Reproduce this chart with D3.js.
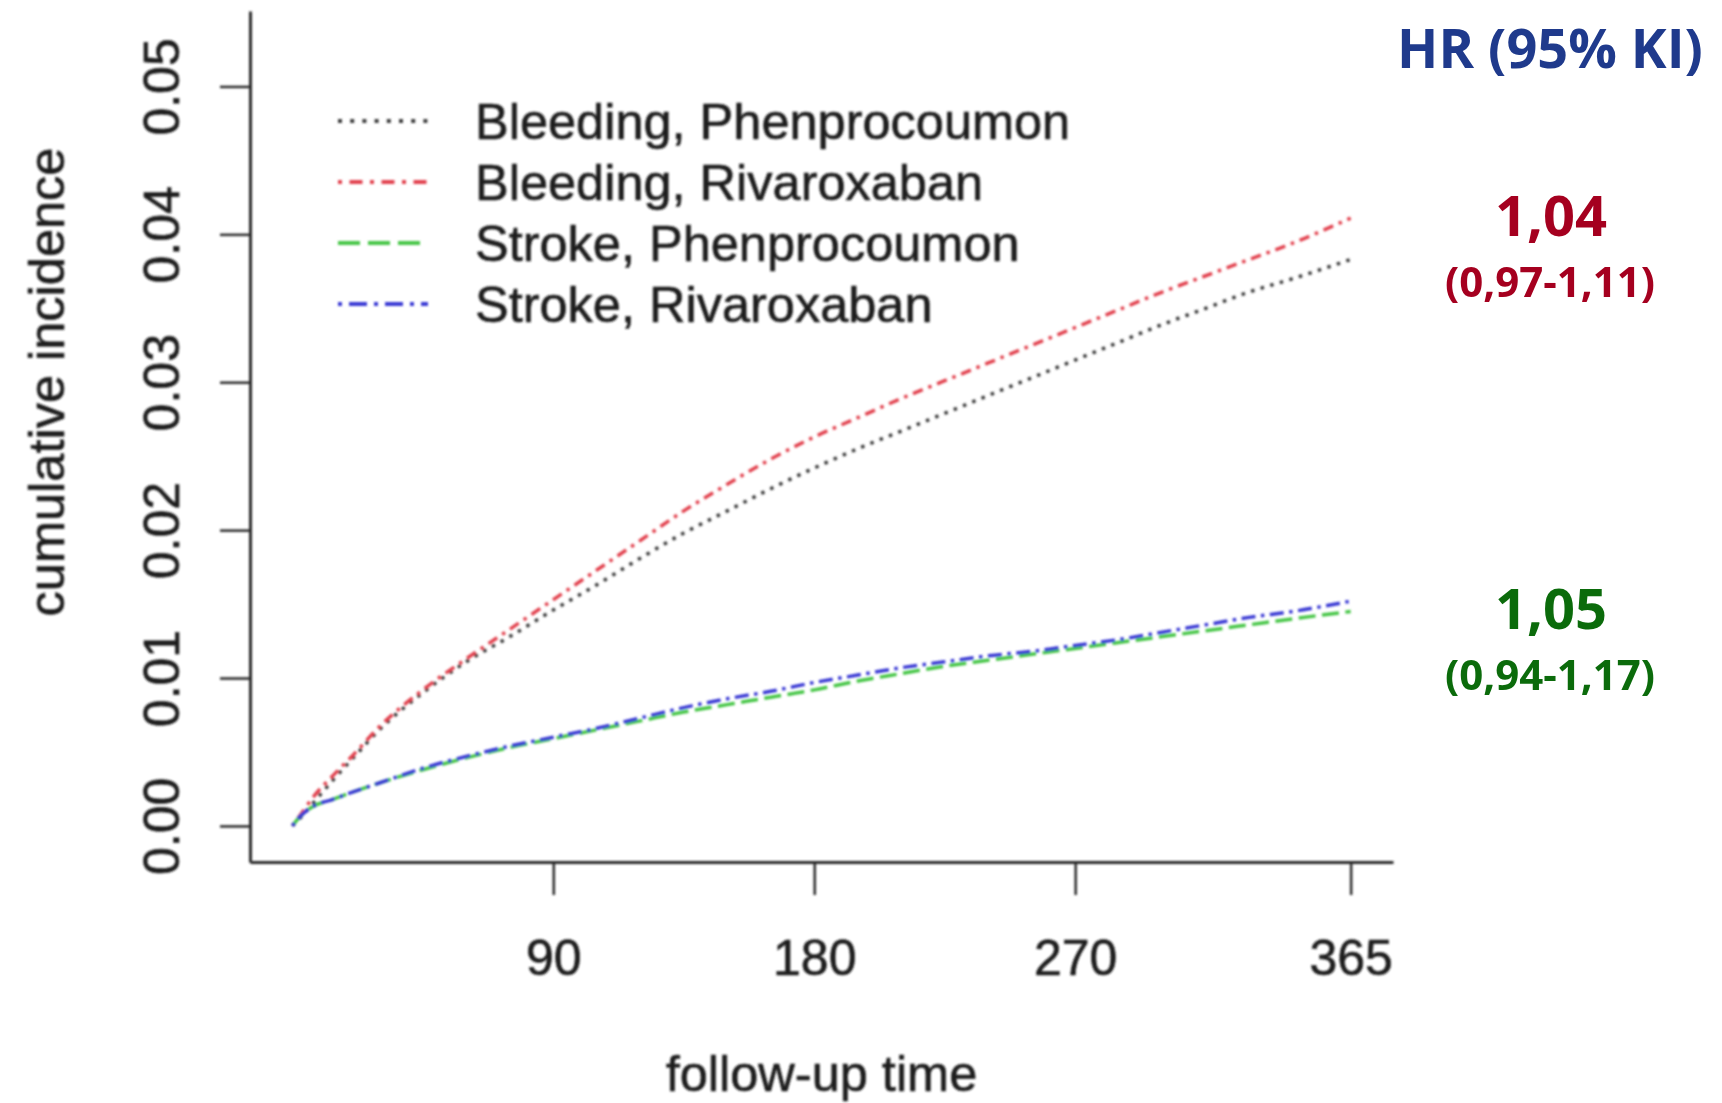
<!DOCTYPE html>
<html>
<head>
<meta charset="utf-8">
<script src="https://cdn.jsdelivr.net/npm/d3@7"></script>
<style>
  html, body { margin: 0; padding: 0; background: #fff; }
  svg { display: block; }
</style>
</head>
<body>
<svg id="chart" width="1722" height="1103"></svg>
<script>
// Follow-up days at which the cumulative incidence curves are sampled
const days = [0, 3, 7, 14, 21, 30, 45, 60, 75, 90, 105, 120, 135, 150, 165, 180,
              195, 210, 225, 240, 255, 270, 285, 300, 315, 330, 345, 365];

// Cumulative incidence per group
const bleedingPhenprocoumon = [0, 0.0006, 0.0015, 0.0031, 0.0046, 0.0065, 0.0090, 0.0111, 0.0128, 0.0146,
  0.0163, 0.0181, 0.0198, 0.0213, 0.0228, 0.0242, 0.0255, 0.0267, 0.0279, 0.0291, 0.0303, 0.0315,
  0.0327, 0.0339, 0.0350, 0.0361, 0.0370, 0.0383];
const bleedingRivaroxaban = [0, 0.0008, 0.0019, 0.0034, 0.0048, 0.0067, 0.0092, 0.0113, 0.0133, 0.0153,
  0.0173, 0.0193, 0.0213, 0.0231, 0.0248, 0.0263, 0.0276, 0.0289, 0.0301, 0.0313, 0.0325, 0.0337,
  0.0349, 0.0361, 0.0372, 0.0383, 0.0394, 0.0411];
const strokePhenprocoumon = [0, 0.0007, 0.0013, 0.0018, 0.0023, 0.0029, 0.0038, 0.0046, 0.0053, 0.0059,
  0.0065, 0.0071, 0.0077, 0.0082, 0.0087, 0.0092, 0.0098, 0.0103, 0.0108, 0.0112, 0.0116, 0.0120,
  0.0124, 0.0128, 0.0132, 0.0136, 0.0140, 0.0145];
const strokeRivaroxaban = [0, 0.0007, 0.0013, 0.0018, 0.0023, 0.0029, 0.0039, 0.0047, 0.0054, 0.0060,
  0.0066, 0.0073, 0.0080, 0.0086, 0.0091, 0.0097, 0.0102, 0.0107, 0.0111, 0.0115, 0.0118, 0.0122,
  0.0126, 0.0131, 0.0136, 0.0141, 0.0145, 0.0152];

const seriesNames = ["Bleeding, Phenprocoumon", "Bleeding, Rivaroxaban",
                     "Stroke, Phenprocoumon", "Stroke, Rivaroxaban"];
const seriesValues = [bleedingPhenprocoumon, bleedingRivaroxaban, strokePhenprocoumon, strokeRivaroxaban];

// Axis ticks
const xTicks = [90, 180, 270, 365];
const yTicks = [0, 0.01, 0.02, 0.03, 0.04, 0.05];

// Hazard ratios with 95% confidence intervals
const hrTitle = "HR (95% KI)";
const hrValues = ["1,04", "1,05"];
const hrIntervals = ["(0,97-1,11)", "(0,94-1,17)"];

// ---- styling ----
// legendDash: pattern on the straight legend keys; plotDash: same pattern, tighter along the curves
const lineStyles = [
  { color: "#3c3c3c", legendDash: "4,8.2",        plotDash: "3.5,6.5" },
  { color: "#e2434f", legendDash: "4,7.5,13,7.5", plotDash: "3.5,6,10.5,6" },
  { color: "#46c646", legendDash: "22,8",         plotDash: "17,6.5" },
  { color: "#3b3bd4", legendDash: "4,7,18,7",     plotDash: "3.5,5.5,14,5.5" }
];
const hrColors = ["#a5001f", "#0b6b0b"];
const textFont = "'Liberation Sans', Arial, Helvetica, sans-serif";
const inkColor = "#1e1e1e";

const svg = d3.select("#chart");

// soft focus on the plotted figure
const defs = svg.append("defs");
defs.append("filter").attr("id", "soft")
  .attr("filterUnits", "userSpaceOnUse")
  .attr("x", 0).attr("y", 0).attr("width", 1722).attr("height", 1103)
  .append("feGaussianBlur").attr("stdDeviation", 0.8);

const plot = svg.append("g").attr("filter", "url(#soft)");

const x = d3.scaleLinear().domain([-14.6, 379.6]).range([250, 1393]);
const y = d3.scaleLinear().domain([-0.00244, 0.0551]).range([862, 11]);

function inkText(sel, size) {
  return sel.attr("fill", inkColor)
    .attr("stroke", inkColor).attr("stroke-width", 0.6)
    .style("font-family", textFont).style("font-size", size + "px");
}

// y axis
const yAxis = plot.append("g")
  .attr("transform", `translate(${x.range()[0]},0)`)
  .call(d3.axisLeft(y).tickValues(yTicks).tickSize(30).tickSizeOuter(0).tickFormat(d3.format(".2f")));
yAxis.select(".domain").attr("stroke", "#2b2b2b").attr("stroke-width", 3);
yAxis.selectAll(".tick line").attr("stroke", "#2b2b2b").attr("stroke-width", 2.5);
inkText(yAxis.selectAll(".tick text")
  .attr("x", null).attr("dy", null)
  .attr("transform", "translate(-71,0) rotate(-90)")
  .attr("text-anchor", "middle"), 50);

// x axis
const xAxis = plot.append("g")
  .attr("transform", `translate(0,${y.range()[0]})`)
  .call(d3.axisBottom(x).tickValues(xTicks).tickSize(33).tickSizeOuter(0));
xAxis.select(".domain").attr("stroke", "#2b2b2b").attr("stroke-width", 3);
xAxis.selectAll(".tick line").attr("stroke", "#2b2b2b").attr("stroke-width", 2.5);
inkText(xAxis.selectAll(".tick text").attr("y", 113).attr("dy", null), 50);

// axis titles
inkText(plot.append("text")
  .attr("transform", "translate(64,382) rotate(-90)")
  .attr("text-anchor", "middle"), 50.5)
  .text("cumulative incidence");
inkText(plot.append("text")
  .attr("x", (x.range()[0] + x.range()[1]) / 2).attr("y", 1091)
  .attr("text-anchor", "middle"), 50.5)
  .text("follow-up time");

// curves
const line = d3.line()
  .x((d, i) => x(days[i]))
  .y(d => y(d))
  .curve(d3.curveMonotoneX);

plot.append("g").selectAll("path")
  .data(seriesValues)
  .join("path")
  .attr("d", d => line(d))
  .attr("fill", "none")
  .attr("stroke", (d, i) => lineStyles[i].color)
  .attr("stroke-width", 3.5)
  .attr("stroke-dasharray", (d, i) => lineStyles[i].plotDash);

// legend
const legend = plot.append("g").attr("transform", "translate(338,121)");
const rows = legend.selectAll("g").data(seriesNames).join("g")
  .attr("transform", (d, i) => `translate(0,${i * 61})`);
rows.append("line")
  .attr("x1", 0).attr("x2", 90).attr("y1", 0).attr("y2", 0)
  .attr("stroke", (d, i) => lineStyles[i].color)
  .attr("stroke-width", 4)
  .attr("stroke-dasharray", (d, i) => lineStyles[i].legendDash);
inkText(rows.append("text").attr("x", 137).attr("y", 18), 50.5)
  .text(d => d);

// hazard ratio annotations
const ann = svg.append("g")
  .style("font-family", "'Open Sans', 'Noto Sans', sans-serif")
  .style("font-weight", 700)
  .attr("text-anchor", "middle");
ann.append("text")
  .attr("x", 1550).attr("y", 68)
  .attr("fill", "#1f3a8c")
  .style("font-size", "54px")
  .text(hrTitle);
const hrBaselines = [236, 629];
hrValues.forEach((v, i) => {
  ann.append("text")
    .attr("x", 1551).attr("y", hrBaselines[i])
    .attr("fill", hrColors[i])
    .style("font-size", "56px")
    .text(v);
  ann.append("text")
    .attr("x", 1550).attr("y", hrBaselines[i] + 61)
    .attr("fill", hrColors[i])
    .style("font-size", "42px")
    .text(hrIntervals[i]);
});
</script>
</body>
</html>
